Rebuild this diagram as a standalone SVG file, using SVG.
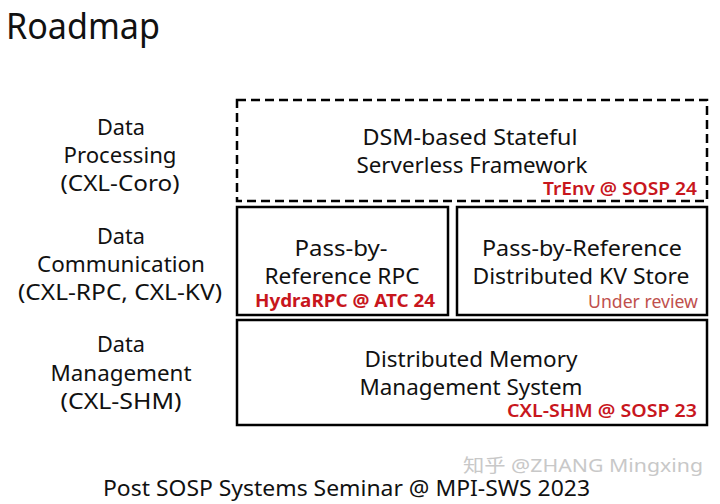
<svg xmlns="http://www.w3.org/2000/svg" width="720" height="504" viewBox="0 0 720 504">
<style>
text{font-family:"Noto Sans","Open Sans","Liberation Sans",sans-serif;fill:#111}
.t{font-size:21.5px;text-anchor:middle}
.l{font-size:21.5px;text-anchor:middle}
.r{font-size:17.5px;text-anchor:end;fill:#c8161d;font-weight:600}
.rb{font-size:17.5px;text-anchor:middle;fill:#c8161d;font-weight:bold}
.u{font-size:17.5px;text-anchor:end;fill:#c0504d}
.box{fill:none;stroke:#000;stroke-width:2.5}
</style>
<rect width="720" height="504" fill="#fff"/>
<text x="6" y="39" style="font-size:36px" textLength="154" lengthAdjust="spacingAndGlyphs">Roadmap</text>
<g id="labels">
<g id="lbl-processing"><text class="l" x="121" y="135" textLength="48" lengthAdjust="spacingAndGlyphs">Data</text><text class="l" x="120" y="163" textLength="113" lengthAdjust="spacingAndGlyphs">Processing</text><text class="l" x="120" y="191" textLength="119" lengthAdjust="spacingAndGlyphs">(CXL-Coro)</text></g>
<g id="lbl-communication"><text class="l" x="121" y="244" textLength="48" lengthAdjust="spacingAndGlyphs">Data</text><text class="l" x="121" y="272" textLength="168" lengthAdjust="spacingAndGlyphs">Communication</text><text class="l" x="120" y="300" textLength="204" lengthAdjust="spacingAndGlyphs">(CXL-RPC, CXL-KV)</text></g>
<g id="lbl-management"><text class="l" x="121" y="352" textLength="48" lengthAdjust="spacingAndGlyphs">Data</text><text class="l" x="121" y="381" textLength="141" lengthAdjust="spacingAndGlyphs">Management</text><text class="l" x="121" y="409" textLength="121" lengthAdjust="spacingAndGlyphs">(CXL-SHM)</text></g>
</g>
<g id="dsm">
<rect class="box" x="237" y="100" width="470" height="101" stroke-dasharray="9,5"/>
<text class="t" x="470" y="145" textLength="215" lengthAdjust="spacingAndGlyphs">DSM-based Stateful</text>
<text class="t" x="472" y="173" textLength="231" lengthAdjust="spacingAndGlyphs">Serverless Framework</text>
<text class="r" x="697" y="195" textLength="154" lengthAdjust="spacingAndGlyphs">TrEnv @ SOSP 24</text>
</g>
<g id="rpc">
<rect class="box" x="237" y="207" width="211" height="108"/>
<text class="t" x="341" y="256" textLength="93" lengthAdjust="spacingAndGlyphs">Pass-by-</text>
<text class="t" x="342" y="284" textLength="155" lengthAdjust="spacingAndGlyphs">Reference RPC</text>
<text class="rb" x="345" y="307" textLength="180" lengthAdjust="spacingAndGlyphs">HydraRPC @ ATC 24</text>
</g>
<g id="kv">
<rect class="box" x="457" y="207" width="250" height="108"/>
<text class="t" x="582" y="256" textLength="200" lengthAdjust="spacingAndGlyphs">Pass-by-Reference</text>
<text class="t" x="581" y="284" textLength="217" lengthAdjust="spacingAndGlyphs">Distributed KV Store</text>
<text class="u" x="698" y="308" textLength="110" lengthAdjust="spacingAndGlyphs">Under review</text>
</g>
<g id="dmm">
<rect class="box" x="237" y="320" width="470" height="105"/>
<text class="t" x="471" y="367" textLength="213" lengthAdjust="spacingAndGlyphs">Distributed Memory</text>
<text class="t" x="471" y="395" textLength="223" lengthAdjust="spacingAndGlyphs">Management System</text>
<text class="r" x="697" y="417" textLength="190" lengthAdjust="spacingAndGlyphs">CXL-SHM @ SOSP 23</text>
</g>
<g id="connectors"></g>
<text x="463" y="472" style="font-size:18px;fill:#c8c8c8;font-family:'Noto Sans','Noto Sans CJK SC',sans-serif" textLength="240" lengthAdjust="spacingAndGlyphs">知乎 @ZHANG Mingxing</text>
<text x="103" y="496" style="font-size:22px" textLength="487" lengthAdjust="spacingAndGlyphs">Post SOSP Systems Seminar @ MPI-SWS 2023</text>
</svg>
